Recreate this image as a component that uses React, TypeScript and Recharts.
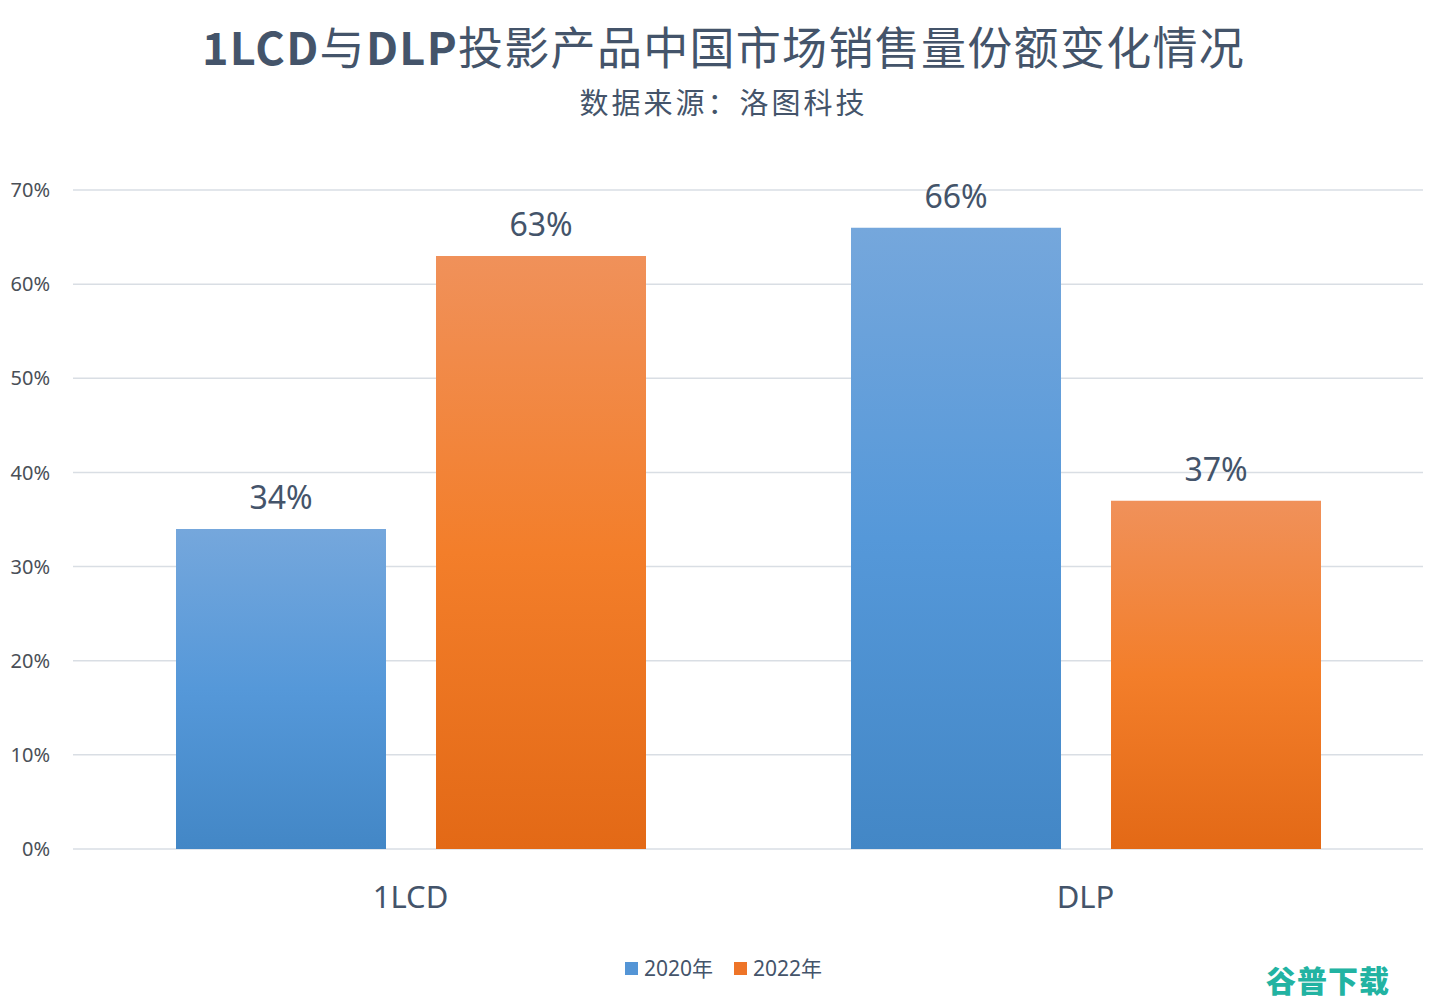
import React from 'react';
import { BarChart, Bar, XAxis, YAxis, CartesianGrid, LabelList } from 'recharts';

const categories = ['1LCD', 'DLP'];
const share2020 = [0.34, 0.66];
const share2022 = [0.63, 0.37];
const seriesNames = ['2020年', '2022年'];
const yTicks = [0, 0.1, 0.2, 0.3, 0.4, 0.5, 0.6, 0.7];

const TEXT = '#44546a';
const FONT = '"Noto Sans", "Noto Sans CJK SC", sans-serif';

const data = categories.map((name, i) => ({
  name,
  y2020: share2020[i],
  y2022: share2022[i],
}));

const pct = (v: number) => `${Math.round(v * 100)}%`;

const App: React.FC = () => {
  return (
    <div
      style={{
        position: 'absolute',
        left: 0,
        top: 0,
        width: 1447,
        height: 1002,
        background: '#fff',
        fontFamily: FONT,
        overflow: 'hidden',
      }}
    >
      <div
        style={{
          position: 'absolute',
          top: 24,
          left: 0,
          width: 1447,
          height: 44,
          textAlign: 'center',
          fontSize: 45,
          color: TEXT,
          lineHeight: '44px',
          letterSpacing: 1.3,
          fontFamily: '"Noto Sans CJK SC", "Noto Sans", sans-serif',
        }}
      >
        <span style={{ fontWeight: 700 }}>1LCD</span>与<span style={{ fontWeight: 700 }}>DLP</span>投影产品中国市场销售量份额变化情况
      </div>
      <div
        style={{
          position: 'absolute',
          top: 85,
          left: 0,
          width: 1447,
          textAlign: 'center',
          fontSize: 29,
          color: TEXT,
          lineHeight: '32px',
          letterSpacing: 3,
          fontFamily: '"Noto Sans CJK SC", sans-serif',
        }}
      >
        数据来源：洛图科技
      </div>

      <BarChart
        width={1447}
        height={1002}
        data={data}
        margin={{ top: 190, right: 24, left: 0, bottom: 93 }}
        barCategoryGap="15.2%"
        barGap={50}
        style={{ position: 'absolute', left: 0, top: 0 }}
      >
        <defs>
          <linearGradient id="gradBlue" x1="0" y1="0" x2="0" y2="1">
            <stop offset="0%" stopColor="#75a7dc" />
            <stop offset="50%" stopColor="#5598d9" />
            <stop offset="100%" stopColor="#4387c6" />
          </linearGradient>
          <linearGradient id="gradOrange" x1="0" y1="0" x2="0" y2="1">
            <stop offset="0%" stopColor="#f0915a" />
            <stop offset="50%" stopColor="#f37e2a" />
            <stop offset="100%" stopColor="#e36916" />
          </linearGradient>
        </defs>
        <CartesianGrid vertical={false} stroke="#d9dee4" strokeWidth={1.5} />
        <XAxis
          dataKey="name"
          axisLine={false}
          tickLine={false}
          tickSize={0}
          tickMargin={37}
          height={60}
          tick={{ fontSize: 31, fill: TEXT, fontFamily: FONT }}
        />
        <YAxis
          width={73}
          domain={[0, 0.7]}
          ticks={yTicks}
          tickFormatter={pct}
          axisLine={false}
          tickLine={false}
          tickSize={0}
          tickMargin={23}
          tick={{ fontSize: 20, fill: '#4a4f57', fontFamily: FONT }}
        />
        <Bar dataKey="y2020" name={seriesNames[0]} fill="url(#gradBlue)" barSize={210} isAnimationActive={false}>
          <LabelList dataKey="y2020" position="top" offset={20} formatter={(v: any) => pct(Number(v))} style={{ fontSize: 32, fill: TEXT, fontFamily: FONT }} />
        </Bar>
        <Bar dataKey="y2022" name={seriesNames[1]} fill="url(#gradOrange)" barSize={210} isAnimationActive={false}>
          <LabelList dataKey="y2022" position="top" offset={20} formatter={(v: any) => pct(Number(v))} style={{ fontSize: 32, fill: TEXT, fontFamily: FONT }} />
        </Bar>
      </BarChart>

      <div
        style={{
          position: 'absolute',
          top: 954,
          left: 625,
          display: 'flex',
          alignItems: 'center',
          fontSize: 21,
          color: TEXT,
          lineHeight: '28px',
        }}
      >
        {seriesNames.map((s, i) => (
          <div key={s} style={{ display: 'flex', alignItems: 'center', marginRight: 21 }}>
            <span
              style={{
                display: 'inline-block',
                width: 13,
                height: 13,
                background: i === 0 ? '#5495d6' : '#ee7428',
                marginRight: 6,
              }}
            />
            <span>{s}</span>
          </div>
        ))}
      </div>

      <div
        style={{
          position: 'absolute',
          top: 961,
          left: 1266,
          fontSize: 30,
          fontWeight: 900,
          color: '#22b3a2',
          letterSpacing: 1,
          lineHeight: '36px',
          fontFamily: '"Noto Sans CJK SC", sans-serif',
        }}
      >
        谷普下载
      </div>
    </div>
  );
};

export default App;
